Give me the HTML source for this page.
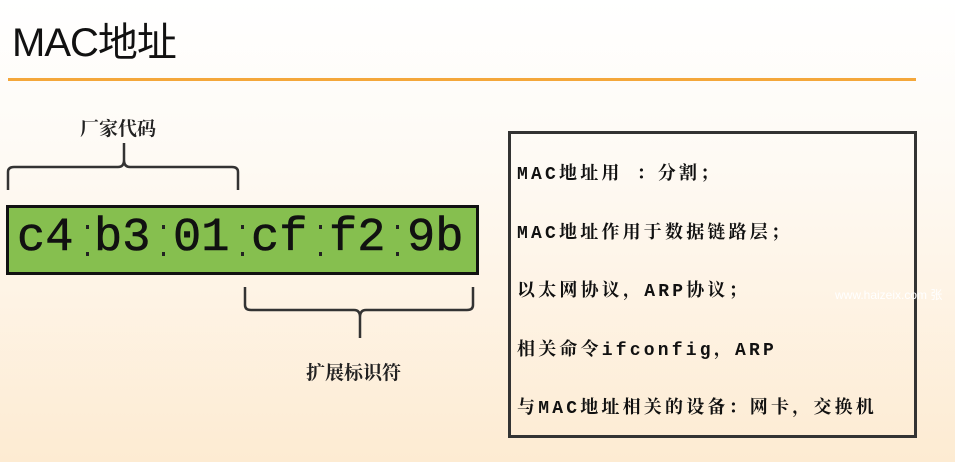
<!DOCTYPE html>
<html><head><meta charset="utf-8"><style>
body{margin:0;width:955px;height:462px;overflow:hidden;background:linear-gradient(#ffffff 0%,#fefaf4 35%,#fdebd2 100%);position:relative;font-family:"Liberation Mono","Noto Serif CJK SC",monospace;}
.a{position:absolute;white-space:nowrap}
</style></head><body>
<div class="a" style="left:12px;top:10px;font:40px 'Liberation Sans','Noto Sans CJK SC',sans-serif;color:#111;letter-spacing:-1px">MAC地址</div>
<div class="a" style="left:8px;top:78px;width:908px;height:3px;background:#f4a73a"></div>
<div class="a" style="left:80px;top:114px;font:bold 19px 'Noto Serif CJK SC',serif;color:#222">厂家代码</div>
<div class="a" style="left:306px;top:358px;font:bold 19px 'Noto Serif CJK SC',serif;color:#222">扩展标识符</div>
<svg class="a" style="left:0;top:0" width="955" height="462">
<path d="M8 190 V172 Q8 167 14 167 H118 Q124 167 124 160 V143 M124 160 Q124 167 130 167 H232 Q238 167 238 172 V190" fill="none" stroke="#333" stroke-width="2.5"/>
<path d="M245 287 V305 Q245 310 251 310 H354 Q360 310 360 317 V338 M360 317 Q360 310 366 310 H467 Q473 310 473 305 V287" fill="none" stroke="#333" stroke-width="2.5"/>
<rect x="7.5" y="206.5" width="470" height="67" fill="#86bf4f" stroke="#111" stroke-width="3"/>
<g fill="#222">
<rect x="86" y="225" width="3" height="4"/><rect x="86" y="252" width="3" height="4"/>
<rect x="162" y="225" width="3" height="4"/><rect x="162" y="252" width="3" height="4"/>
<rect x="241" y="225" width="3" height="4"/><rect x="241" y="252" width="3" height="4"/>
<rect x="319" y="225" width="3" height="4"/><rect x="319" y="252" width="3" height="4"/>
<rect x="396" y="225" width="3" height="4"/><rect x="396" y="252" width="3" height="4"/>
</g>
<rect x="509.5" y="132.5" width="406" height="304" fill="none" stroke="#333" stroke-width="3"/>
</svg>
<div class="a" style="left:17px;top:212px;font:47px 'Liberation Mono',monospace;color:#111;-webkit-text-stroke:0.6px #111">
<span style="position:absolute;left:0">c4</span><span style="position:absolute;left:77px">b3</span><span style="position:absolute;left:156px">01</span><span style="position:absolute;left:234px">cf</span><span style="position:absolute;left:312px">f2</span><span style="position:absolute;left:390px">9b</span></div>
<div class="a" style="left:517px;top:146px;font:bold 18px 'Liberation Mono','Noto Serif CJK SC',monospace;color:#111;line-height:58.5px;letter-spacing:3.2px">
MAC地址用 ：分割；<br>MAC地址作用于数据链路层；<br>以太网协议，ARP协议；<br>相关命令ifconfig，ARP<br>与MAC地址相关的设备：网卡，交换机</div>
<div class="a" style="left:835px;top:286px;font:12px 'Liberation Sans',sans-serif;color:#fff">www.haizeix.com 张</div>
</body></html>
